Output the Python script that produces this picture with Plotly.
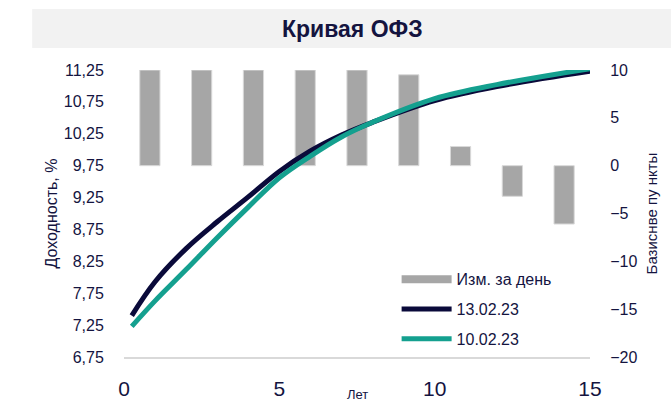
import plotly.graph_objects as go

# Data
bar_categories = ["1", "2", "3", "4", "5", "6", "7", "8", "9"]
bar_values = [10.0, 10.0, 10.0, 10.0, 10.0, 9.5, 2.0, -3.2, -6.1]

maturities = [0.25, 1, 2, 3, 4, 5, 6, 7, 8, 10, 12, 15]
curve_130223 = [7.40, 7.93, 8.45, 8.87, 9.26, 9.66, 9.98, 10.23, 10.43, 10.77, 10.99, 11.23]
curve_100223 = [7.23, 7.63, 8.12, 8.62, 9.10, 9.56, 9.90, 10.20, 10.43, 10.80, 11.02, 11.27]

left_ticks = [6.75, 7.25, 7.75, 8.25, 8.75, 9.25, 9.75, 10.25, 10.75, 11.25]
right_ticks = [-20, -15, -10, -5, 0, 5, 10]
x_ticks = [0, 5, 10, 15]

TXT = "#14143f"
NAVY = "#0a0a3a"
TEAL = "#14a08f"
GRAY = "#a6a6a6"
FONT = "Liberation Sans, Arial, sans-serif"

fig = go.Figure()

# bars (base subplot, right axis)
fig.add_trace(go.Bar(
    x=bar_categories, y=bar_values, xaxis="x", yaxis="y",
    marker=dict(color=GRAY, line=dict(color="#d9d9d9", width=1)),
    name="Изм. за день", showlegend=False,
))
# legend swatch for bars
fig.add_trace(go.Scatter(
    x=[None], y=[None], xaxis="x2", yaxis="y2", mode="lines",
    line=dict(color=GRAY, width=8), name="Изм. за день", legendrank=1,
    legendgroup="g1",
))
fig.add_trace(go.Scatter(
    x=maturities, y=curve_130223, xaxis="x2", yaxis="y2", mode="lines",
    line=dict(color=NAVY, width=5, shape="spline"), name="13.02.23", legendrank=2,
    legendgroup="g2",
))
fig.add_trace(go.Scatter(
    x=maturities, y=curve_100223, xaxis="x2", yaxis="y2", mode="lines",
    line=dict(color=TEAL, width=5, shape="spline"), name="10.02.23", legendrank=3,
    legendgroup="g3",
))

fig.update_layout(
    width=671, height=402,
    margin=dict(l=124, r=81, t=70, b=45, autoexpand=False),
    paper_bgcolor="white", plot_bgcolor="white",
    separators=", ",
    font=dict(family=FONT, color=TXT, size=16),
    bargap=0.61,
    xaxis=dict(type="category", range=[-0.5, 8.5], visible=False, showgrid=False,
               automargin=False),
    yaxis=dict(
        side="right", range=[-20, 10], tickvals=right_ticks, showgrid=False,
        zeroline=False, ticks="outside", ticklen=16, tickcolor="rgba(0,0,0,0)",
        tickfont=dict(size=16, color=TXT), automargin=False,
        title=dict(text="Базиснве пу нкты", font=dict(size=15, color=TXT), standoff=10),
    ),
    xaxis2=dict(
        overlaying="x", range=[0, 15], tickvals=x_ticks, showgrid=False, zeroline=False,
        showline=True, linecolor="#d9d9d9", linewidth=2,
        ticks="outside", ticklen=12, tickcolor="rgba(0,0,0,0)",
        tickfont=dict(size=21, color=TXT), side="bottom", automargin=False,
    ),
    yaxis2=dict(
        overlaying="y", side="left", range=[6.75, 11.25], tickvals=left_ticks,
        tickformat=".2f", showgrid=False, zeroline=False,
        ticks="outside", ticklen=16, tickcolor="rgba(0,0,0,0)",
        tickfont=dict(size=16, color=TXT), automargin=False,
        title=dict(text="Доходность, %", font=dict(size=16, color=TXT), standoff=2),
    ),
    legend=dict(
        x=0.585, y=0.33, xanchor="left", yanchor="top",
        bgcolor="rgba(255,255,255,0)", font=dict(size=16, color=TXT),
        itemwidth=50, tracegroupgap=6, traceorder="grouped",
    ),
    shapes=[dict(
        type="rect", xref="paper", yref="paper",
        x0=-0.197, x1=1.18, y0=1.0767, y1=1.2125,
        fillcolor="#f2f2f2", line=dict(width=0), layer="below",
    )],
    annotations=[
        dict(text="<b>Кривая ОФЗ</b>", xref="paper", yref="paper", x=0.491, y=1.143,
             xanchor="center", yanchor="middle",
             showarrow=False, font=dict(size=23, color=TXT, family=FONT)),
        dict(text="Лет", xref="paper", yref="paper", x=0.502, y=-0.131,
             xanchor="center", yanchor="middle",
             showarrow=False, font=dict(size=13, color=TXT, family=FONT)),
    ],
)

fig.write_html("out.html", config={"displayModeBar": False},
               post_script="document.body.style.margin='0';")
